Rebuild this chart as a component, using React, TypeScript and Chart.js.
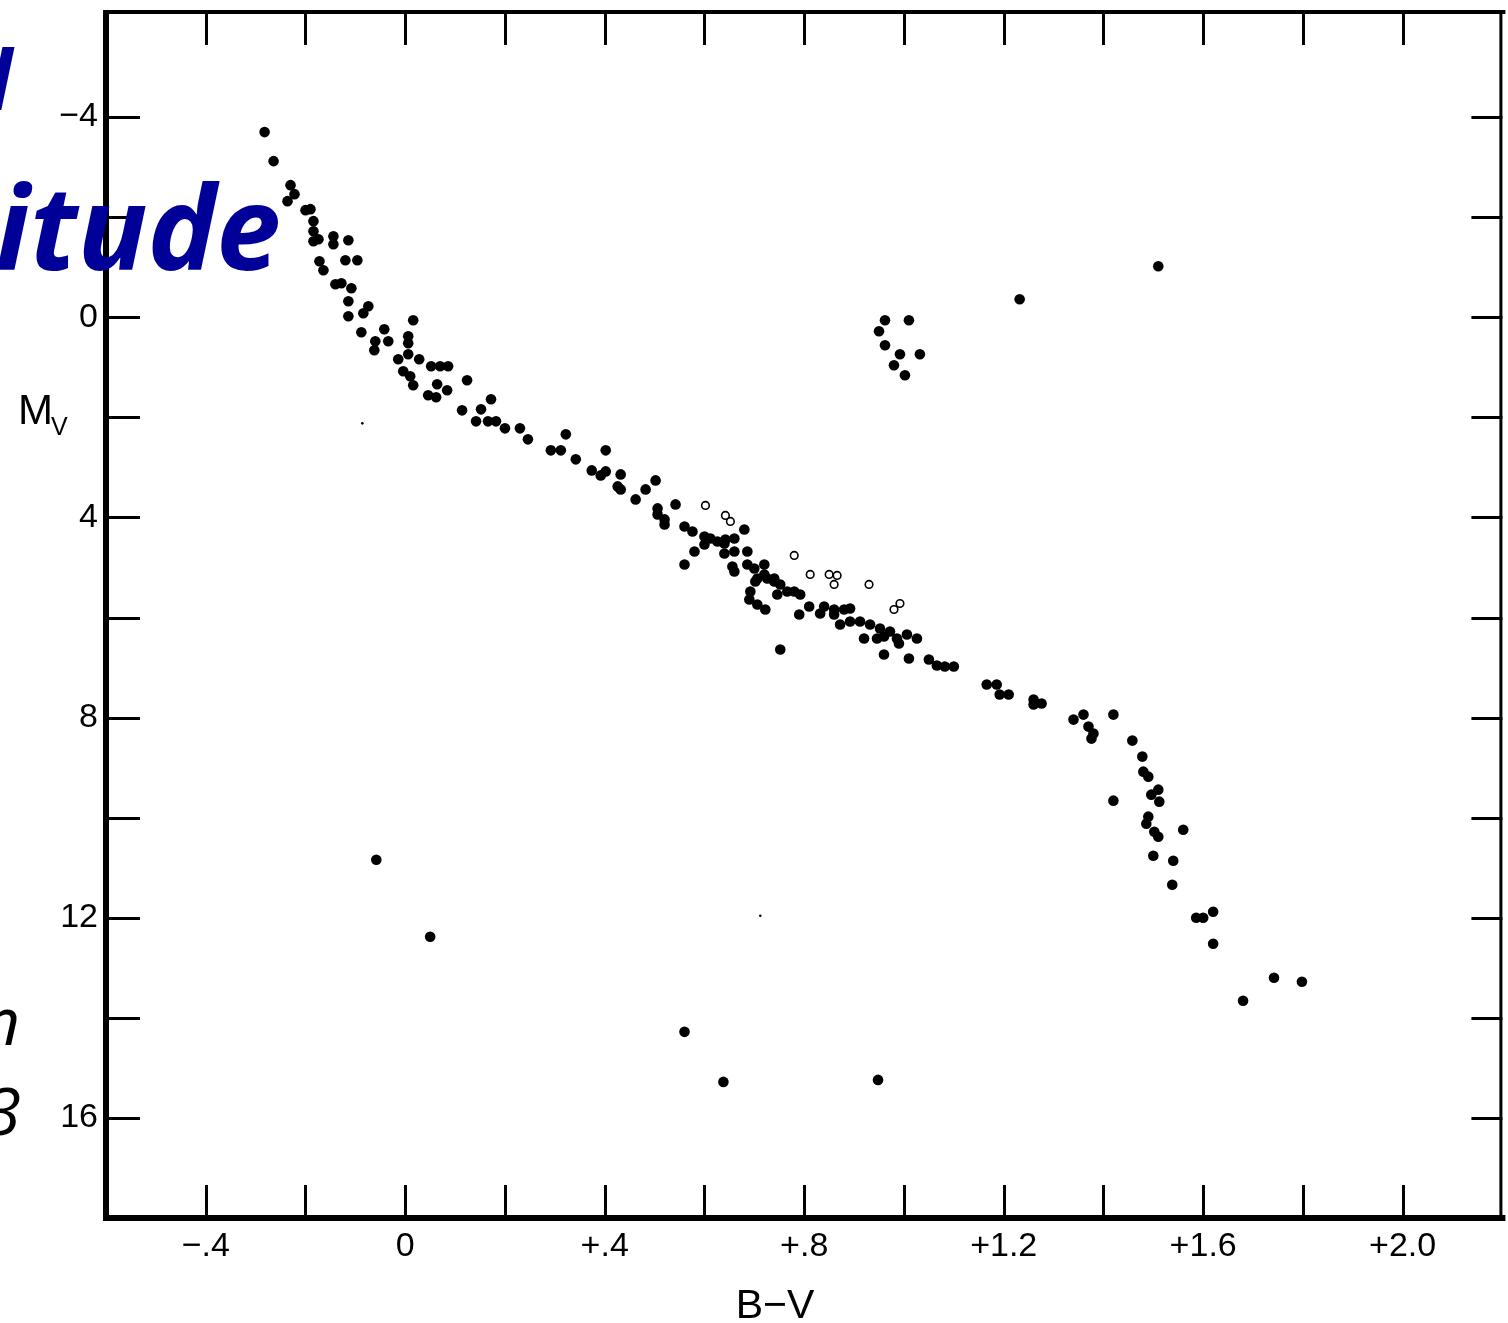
import React, { useEffect, useRef } from 'react';
import { Chart, registerables } from 'chart.js';
Chart.register(...registerables);

// Main sequence stars (B-V, Mv)
const bvMain = [
  -0.282, -0.264, -0.23, -0.222, -0.236, -0.2, -0.19, -0.184, -0.184, -0.184, -0.174, -0.144, -0.144, -0.114,
  -0.172, -0.164, -0.12, -0.096, -0.14, -0.128, -0.108, -0.114, -0.074, -0.114, -0.084, -0.088, 0.016, -0.042,
  -0.034, -0.06, -0.062, 0.006, 0.006, 0.006, -0.014, 0.028, -0.004, 0.01, 0.016, 0.052, 0.07, 0.086, 0.064,
  0.046, 0.062, 0.084, 0.124, 0.172, 0.114, 0.152, 0.142, 0.166, 0.182, 0.2, 0.23, 0.246, 0.322, 0.292, 0.312,
  0.342, 0.402, 0.374, 0.402, 0.392, 0.432, 0.426, 0.432, 0.502, 0.482, 0.462, 0.542, 0.506, 0.506, 0.52, 0.52,
  0.56, 0.576, 0.58, 0.6, 0.6, 0.612, 0.626, 0.64, 0.66, 0.68, 0.64, 0.642, 0.66, 0.56, 0.656, 0.686, 0.686,
  0.7, 0.72, 0.72, 0.74, 0.692, 0.66, 0.706, 0.726, 0.74, 0.702, 0.752, 0.766, 0.78, 0.792, 0.746, 0.69, 0.706,
  0.722, 0.79, 0.81, 0.84, 0.86, 0.88, 0.892, 0.832, 0.86, 0.872, 0.892, 0.912, 0.932, 0.952, 0.92, 0.946,
  0.972, 0.986, 1.006, 1.026, 0.96, 0.752, 0.96, 0.99, 1.01, 1.05, 1.066, 1.082, 1.1, 1.166, 1.186, 1.192,
  1.21, 1.26, 1.26, 1.276, 1.34, 1.36, 1.37, 1.38, 1.376, 1.42, 1.458, 1.478, 1.48, 1.49, 1.51, 1.496, 1.512,
  1.42, 1.49, 1.486, 1.502, 1.51, 1.56, 1.5, 1.54, 1.538, 1.586, 1.6, 1.62, 1.62, 1.742, 1.798, 1.68,
];
const mvMain = [
  -3.7, -3.12, -2.64, -2.46, -2.32, -2.14, -2.16, -1.92, -1.72, -1.52, -1.56, -1.62, -1.46, -1.54,
  -1.12, -0.94, -1.14, -1.14, -0.66, -0.68, -0.58, -0.32, -0.22, -0.02, -0.08, 0.3, 0.06, 0.24,
  0.48, 0.48, 0.66, 0.38, 0.52, 0.74, 0.84, 0.84, 1.08, 1.18, 1.36, 0.98, 0.98, 0.98, 1.34,
  1.56, 1.6, 1.46, 1.26, 1.64, 1.86, 1.84, 2.08, 2.08, 2.08, 2.22, 2.22, 2.44, 2.34, 2.66, 2.66,
  2.84, 2.66, 3.06, 3.08, 3.16, 3.14, 3.38, 3.44, 3.26, 3.44, 3.64, 3.74, 3.82, 3.94, 4.04, 4.14,
  4.18, 4.28, 4.68, 4.38, 4.54, 4.42, 4.48, 4.52, 4.42, 4.24, 4.72, 4.44, 4.68, 4.94, 4.98, 4.68, 4.94,
  5.02, 4.94, 5.14, 5.22, 5.48, 5.08, 5.22, 5.22, 5.28, 5.28, 5.34, 5.48, 5.48, 5.54, 5.54, 5.64, 5.74,
  5.84, 5.94, 5.78, 5.78, 5.84, 5.84, 5.82, 5.92, 5.94, 6.14, 6.08, 6.08, 6.14, 6.22, 6.42, 6.42,
  6.28, 6.42, 6.34, 6.42, 6.74, 6.64, 6.38, 6.52, 6.82, 6.84, 6.96, 6.98, 6.98, 7.34, 7.34, 7.54,
  7.54, 7.64, 7.74, 7.72, 8.04, 7.94, 8.18, 8.32, 8.42, 7.94, 8.46, 8.78, 9.08, 9.18, 9.44, 9.54, 9.68,
  9.66, 9.98, 10.12, 10.28, 10.38, 10.24, 10.76, 10.86, 11.34, 12.0, 12.0, 11.88, 12.52, 13.2, 13.28, 13.66,
];

// Giants
const bvGiant = [0.962, 0.95, 0.962, 1.01, 0.992, 0.98, 1.032, 1.002, 1.232, 1.51];
const mvGiant = [0.06, 0.28, 0.56, 0.06, 0.74, 0.96, 0.74, 1.16, -0.36, -1.02];

// White dwarfs / faint stars
const bvFaint = [-0.058, 0.05, 0.56, 0.638, 0.948];
const mvFaint = [10.84, 12.38, 14.28, 15.28, 15.24];

// Open circles
const bvOpen = [0.602, 0.642, 0.652, 0.78, 0.812, 0.85, 0.866, 0.86, 0.93, 0.992, 0.98];
const mvOpen = [3.76, 3.96, 4.08, 4.76, 5.14, 5.14, 5.16, 5.34, 5.34, 5.72, 5.84];

// Tiny specks
const bvSpeck = [-0.086, 0.712];
const mvSpeck = [2.12, 11.96];

const xTickValues = [-0.4, -0.2, 0, 0.2, 0.4, 0.6, 0.8, 1.0, 1.2, 1.4, 1.6, 1.8, 2.0];
const xTickLabels = ['\u2212.4', '', '0', '', '+.4', '', '+.8', '', '+1.2', '', '+1.6', '', '+2.0'];
const yTickValues = [-4, -2, 0, 2, 4, 6, 8, 10, 12, 14, 16];
const yTickLabels = ['\u22124', '', '0', '', '4', '', '8', '', '12', '', '16'];

const zip = (xs: number[], ys: number[]) => xs.map((x, i) => ({ x, y: ys[i] }));

const labelFor = (vals: number[], labels: string[], v: number) => {
  const i = vals.findIndex((t) => Math.abs(t - v) < 1e-6);
  return i >= 0 ? labels[i] : '';
};

const framePlugin = {
  id: 'frameAndText',
  afterDraw(chart: any) {
    const { ctx, chartArea: a, scales } = chart;
    ctx.save();
    ctx.strokeStyle = '#000';
    ctx.fillStyle = '#000';
    ctx.lineWidth = 3;
    const line = (x1: number, y1: number, x2: number, y2: number) => {
      ctx.beginPath();
      ctx.moveTo(x1, y1);
      ctx.lineTo(x2, y2);
      ctx.stroke();
    };
    xTickValues.forEach((v) => {
      const px = Math.round(scales.x.getPixelForValue(v)) + 0.5;
      line(px, a.bottom, px, a.bottom - 33);
      line(px, a.top, px, a.top + 33);
    });
    yTickValues.forEach((v) => {
      const py = Math.round(scales.y.getPixelForValue(v)) + 0.5;
      line(a.left, py, a.left + 34, py);
      line(a.right, py, a.right - 31, py);
    });
    // frame
    ctx.fillRect(a.left - 3, a.top - 2, 6, a.bottom - a.top + 5);
    ctx.fillRect(a.left - 3, a.bottom - 3, a.right - a.left + 6, 6);
    ctx.fillRect(a.left - 3, a.top - 2, a.right - a.left + 6, 4);
    ctx.fillRect(a.right - 3, a.top - 2, 3, a.bottom - a.top + 5);

    // axis titles
    ctx.textBaseline = 'alphabetic';
    ctx.textAlign = 'left';
    ctx.font = '42px "Liberation Sans"';
    ctx.fillText('M', 18, 424);
    ctx.font = '25px "Liberation Sans"';
    ctx.fillText('V', 51, 435);
    ctx.textAlign = 'center';
    ctx.font = '41px "Liberation Sans"';
    ctx.fillText('B\u2212V', 775, 1318);

    // overlapping slide text
    ctx.textAlign = 'right';
    ctx.fillStyle = '#000099';
    ctx.font = 'italic 700 82px "Open Sans"';
    ctx.fillText('Visual', 12, 110);
    ctx.font = 'italic 700 116px "Open Sans"';
    ctx.fillText('Magnitude', 281, 270);
    ctx.fillStyle = '#000';
    ctx.font = 'italic 400 66px "Open Sans"';
    ctx.fillText('Johnson & Morgan', 20, 1045);
    ctx.fillText('1953', 21, 1135);
    ctx.restore();
  },
};

export default function App() {
  const canvasRef = useRef<HTMLCanvasElement | null>(null);
  useEffect(() => {
    const canvas = canvasRef.current;
    if (!canvas) return;
    const filled = {
      pointRadius: 5.3,
      pointBackgroundColor: '#000',
      pointBorderColor: '#000',
      pointBorderWidth: 0,
      showLine: false,
    };
    const chart = new Chart(canvas, {
      type: 'scatter',
      data: {
        datasets: [
          { label: 'Main sequence', data: zip(bvMain, mvMain), ...filled },
          { label: 'Giants', data: zip(bvGiant, mvGiant), ...filled },
          { label: 'Faint', data: zip(bvFaint, mvFaint), ...filled },
          {
            label: 'Open',
            data: zip(bvOpen, mvOpen),
            pointRadius: 3.8,
            pointBackgroundColor: '#fff',
            pointBorderColor: '#000',
            pointBorderWidth: 1.6,
            showLine: false,
          },
          {
            label: 'Specks',
            data: zip(bvSpeck, mvSpeck),
            pointRadius: 1.3,
            pointBackgroundColor: '#000',
            pointBorderWidth: 0,
            showLine: false,
          },
        ],
      },
      options: {
        responsive: false,
        animation: false,
        devicePixelRatio: 1,
        layout: { padding: { top: 12, right: 2, left: 0, bottom: 0 } },
        plugins: { legend: { display: false }, tooltip: { enabled: false }, title: { display: false } },
        scales: {
          x: {
            type: 'linear',
            min: -0.6,
            max: 2.2,
            grid: { display: false, drawTicks: false },
            border: { display: false },
            afterBuildTicks: (s: any) => {
              s.ticks = xTickValues.map((v) => ({ value: v }));
            },
            afterFit: (s: any) => {
              s.height = 105;
              s.paddingLeft = 0;
              s.paddingRight = 0;
              s.paddingTop = 0;
              s.paddingBottom = 0;
            },
            ticks: {
              autoSkip: false,
              maxRotation: 0,
              padding: 8,
              color: '#000',
              font: { family: 'Liberation Sans', size: 34 },
              callback: (v: any) => labelFor(xTickValues, xTickLabels, Number(v)),
            },
          },
          y: {
            type: 'linear',
            reverse: true,
            min: -6.1,
            max: 18,
            grid: { display: false, drawTicks: false },
            border: { display: false },
            afterBuildTicks: (s: any) => {
              s.ticks = yTickValues.map((v) => ({ value: v }));
            },
            afterFit: (s: any) => {
              s.width = 106;
              s.paddingLeft = 0;
              s.paddingRight = 0;
              s.paddingTop = 0;
              s.paddingBottom = 0;
            },
            ticks: {
              autoSkip: false,
              padding: 8,
              color: '#000',
              font: { family: 'Liberation Sans', size: 34 },
              callback: (v: any) => labelFor(yTickValues, yTickLabels, Number(v)),
            },
          },
        },
      },
      plugins: [framePlugin],
    } as any);
    return () => chart.destroy();
  }, []);
  return (
    <div style={{ position: 'absolute', left: 0, top: 0, width: 1508, height: 1323, background: '#fff' }}>
      <canvas ref={canvasRef} width={1508} height={1323} style={{ display: 'block' }} />
    </div>
  );
}
